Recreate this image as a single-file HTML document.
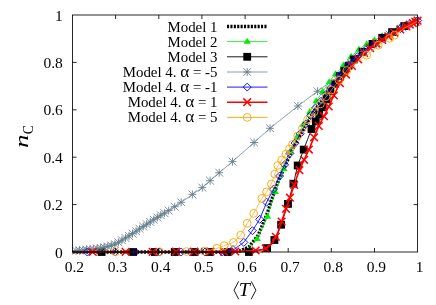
<!DOCTYPE html>
<html><head><meta charset="utf-8"><title>chart</title>
<style>html,body{margin:0;padding:0;background:#fff;}body{width:436px;height:305px;overflow:hidden;font-family:"Liberation Serif",serif;}</style></head>
<body>
<svg width="436" height="305" viewBox="0 0 436 305" style="display:block;will-change:transform;opacity:0.999">
<rect width="436" height="305" fill="#fff"/>
<defs>
<g id="tri"><path d="M0,-3.9 L3.7,2.1 L-3.7,2.1 Z" fill="#00ee00"/></g>
<g id="sq"><rect x="-3.9" y="-3.9" width="7.8" height="7.8" fill="#000"/></g>
<g id="ast"><path d="M-3.9,-3.9L3.9,3.9M-3.9,3.9L3.9,-3.9M0,-4L0,4M-4,0L4,0" stroke="#627c8a" stroke-width="0.85" fill="none"/></g>
<g id="dia"><path d="M0,-4L4,0L0,4L-4,0Z" stroke="#0000ff" stroke-width="0.9" fill="none"/></g>
<g id="crs"><path d="M-3.8,-3.8L3.8,3.8M-3.8,3.8L3.8,-3.8" stroke="#ff0000" stroke-width="1.5" fill="none"/></g>
<g id="cir"><circle r="3.9" stroke="#ffa500" stroke-width="0.9" fill="none"/></g>
</defs>
<polyline points="72.5,252.0 74.7,252.0 76.8,252.0 79.0,252.0 81.1,252.0 83.3,252.0 85.4,252.0 87.6,252.0 89.8,252.0 91.9,252.0 94.1,252.0 96.2,252.0 98.4,252.0 100.5,252.0 102.7,252.0 104.9,252.0 107.0,252.0 109.2,252.0 111.3,252.0 113.5,252.0 115.6,252.0 117.8,252.0 120.0,252.0 122.1,252.0 124.3,252.0 126.4,252.0 128.6,252.0 130.7,252.0 132.9,252.0 135.0,252.0 137.2,252.0 139.4,252.0 141.5,252.0 143.7,252.0 145.8,252.0 148.0,252.0 150.1,252.0 152.3,252.0 154.5,252.0 156.6,252.0 158.8,252.0 160.9,252.0 163.1,252.0 165.2,252.0 167.4,252.0 169.6,252.0 171.7,252.0 173.9,252.0 176.0,252.0 178.2,252.0 180.3,252.0 182.5,252.0 184.7,252.0 186.8,252.0 189.0,252.0 191.1,252.0 193.3,252.0 195.4,252.0 197.6,252.0 199.8,252.0 201.9,252.0 204.1,252.0 206.2,252.0 208.4,252.0 210.5,252.0 212.7,252.0 214.9,252.0 217.0,252.0 219.2,252.0 221.3,252.0 223.5,252.0 225.6,252.0 227.8,252.0 230.0,252.0 232.1,252.0 234.3,251.6 236.4,251.3 238.6,250.9 240.7,250.6 242.9,249.6 245.1,248.7 247.2,247.8 249.4,246.5 251.5,243.7 253.7,241.0 255.8,238.2 258.0,235.5 260.1,230.7 262.3,225.5 264.5,220.2 266.6,215.0 268.8,208.9 270.9,202.3 273.1,195.7 275.2,189.1 277.4,183.2 279.6,178.3 281.7,173.4 283.9,168.5 286.0,163.6 288.2,158.7 290.3,153.8 292.5,148.9 294.7,145.0 296.8,141.2 299.0,137.3 301.1,133.4 303.3,129.6 305.4,125.7 307.6,121.9 309.8,118.0 311.9,114.1 314.1,111.0 316.2,108.0 318.4,105.1 320.5,102.1 322.7,99.1 324.9,96.2 327.0,93.2 329.2,90.2 331.3,87.3 333.5,84.3 335.6,81.4 337.8,78.4 340.0,75.4 342.1,72.9 344.3,70.3 346.4,67.7 348.6,65.2 350.7,62.6 352.9,60.0 355.1,58.3 357.2,56.6 359.4,54.9 361.5,53.2 363.7,51.5 365.8,49.8 368.0,48.4 370.1,47.0 372.3,45.6 374.5,44.2 376.6,42.8 378.8,41.4 380.9,40.0 383.1,38.6 385.2,37.2 387.4,35.9 389.6,34.6 391.7,33.2 393.9,31.9 396.0,30.6 398.2,29.6 400.3,28.6 402.5,27.6 404.7,26.5 406.8,25.5 409.0,24.5 411.1,23.5 413.3,22.5 415.4,21.5 417.6,20.5" fill="none" stroke="#000" stroke-width="3.4" stroke-dasharray="2.1,1.3"/>
<polyline points="72.5,252.0 74.7,252.0 76.8,252.0 79.0,252.0 81.1,252.0 83.3,252.0 85.4,252.0 87.6,252.0 89.8,252.0 91.9,252.0 94.1,252.0 96.2,252.0 98.4,252.0 100.5,252.0 102.7,252.0 104.9,252.0 107.0,252.0 109.2,252.0 111.3,252.0 113.5,252.0 115.6,252.0 117.8,252.0 120.0,252.0 122.1,252.0 124.3,252.0 126.4,252.0 128.6,252.0 130.7,252.0 132.9,252.0 135.0,252.0 137.2,252.0 139.4,252.0 141.5,252.0 143.7,252.0 145.8,252.0 148.0,252.0 150.1,252.0 152.3,252.0 154.5,252.0 156.6,252.0 158.8,252.0 160.9,252.0 163.1,252.0 165.2,252.0 167.4,252.0 169.6,252.0 171.7,252.0 173.9,252.0 176.0,252.0 178.2,252.0 180.3,252.0 182.5,252.0 184.7,252.0 186.8,252.0 189.0,252.0 191.1,252.0 193.3,252.0 195.4,252.0 197.6,252.0 199.8,252.0 201.9,252.0 204.1,252.0 206.2,252.0 208.4,252.0 210.5,252.0 212.7,252.0 214.9,252.0 217.0,252.0 219.2,252.0 221.3,252.0 223.5,252.0 225.6,252.0 227.8,252.0 230.0,252.0 232.1,252.0 234.3,252.0 236.4,252.0 238.6,251.6 240.7,251.3 242.9,250.9 245.1,250.6 247.2,248.5 249.4,246.4 251.5,244.4 253.7,242.3 255.8,240.2 258.0,237.1 260.1,232.5 262.3,227.8 264.5,223.2 266.6,218.5 268.8,212.5 270.9,205.6 273.1,198.7 275.2,191.8 277.4,186.1 279.6,180.3 281.7,174.6 283.9,168.8 286.0,163.1 288.2,157.3 290.3,151.6 292.5,145.8 294.7,141.6 296.8,137.4 299.0,133.1 301.1,128.9 303.3,124.7 305.4,120.5 307.6,116.3 309.8,112.0 311.9,107.8 314.1,104.4 316.2,101.2 318.4,98.1 320.5,94.9 322.7,91.7 324.9,88.5 327.0,85.3 329.2,82.2 331.3,79.0 333.5,76.6 335.6,74.2 337.8,71.7 340.0,69.3 342.1,66.9 344.3,64.5 346.4,62.1 348.6,59.7 350.7,57.2 352.9,54.8 355.1,53.0 357.2,51.1 359.4,49.3 361.5,47.4 363.7,45.8 365.8,44.7 368.0,43.5 370.1,42.4 372.3,41.3 374.5,40.1 376.6,39.0 378.8,37.9 380.9,36.8 383.1,35.7 385.2,34.6 387.4,33.4 389.6,32.3 391.7,31.2 393.9,30.1 396.0,29.0 398.2,28.1 400.3,27.1 402.5,26.2 404.7,25.3 406.8,24.4 409.0,23.4 411.1,22.5 413.3,21.6 415.4,20.7 417.6,19.7" fill="none" stroke="#00ee00" stroke-width="0.8"/>
<use href="#tri" x="257.1" y="239.0"/>
<use href="#tri" x="267.5" y="216.7"/>
<use href="#tri" x="275.2" y="191.8"/>
<use href="#tri" x="283.9" y="168.8"/>
<use href="#tri" x="290.3" y="151.6"/>
<use href="#tri" x="296.8" y="137.4"/>
<use href="#tri" x="303.3" y="124.7"/>
<use href="#tri" x="309.8" y="112.0"/>
<use href="#tri" x="316.2" y="101.2"/>
<use href="#tri" x="322.7" y="91.7"/>
<use href="#tri" x="329.2" y="82.2"/>
<use href="#tri" x="335.6" y="74.2"/>
<use href="#tri" x="343.4" y="65.5"/>
<use href="#tri" x="351.2" y="56.7"/>
<use href="#tri" x="358.9" y="49.6"/>
<use href="#tri" x="366.7" y="44.2"/>
<use href="#tri" x="374.5" y="40.1"/>
<use href="#tri" x="382.2" y="36.1"/>
<use href="#tri" x="390.0" y="32.1"/>
<use href="#tri" x="397.8" y="28.2"/>
<use href="#tri" x="405.5" y="24.9"/>
<use href="#tri" x="413.3" y="21.6"/>
<polyline points="72.5,252.0 74.7,252.0 76.8,252.0 79.0,252.0 81.1,252.0 83.3,252.0 85.4,252.0 87.6,252.0 89.8,252.0 91.9,252.0 94.1,252.0 96.2,252.0 98.4,252.0 100.5,252.0 102.7,252.0 104.9,252.0 107.0,252.0 109.2,252.0 111.3,252.0 113.5,252.0 115.6,252.0 117.8,252.0 120.0,252.0 122.1,252.0 124.3,252.0 126.4,252.0 128.6,252.0 130.7,252.0 132.9,252.0 135.0,252.0 137.2,252.0 139.4,252.0 141.5,252.0 143.7,252.0 145.8,252.0 148.0,252.0 150.1,252.0 152.3,252.0 154.5,252.0 156.6,252.0 158.8,252.0 160.9,252.0 163.1,252.0 165.2,252.0 167.4,252.0 169.6,252.0 171.7,252.0 173.9,252.0 176.0,252.0 178.2,252.0 180.3,252.0 182.5,252.0 184.7,252.0 186.8,252.0 189.0,252.0 191.1,252.0 193.3,252.0 195.4,252.0 197.6,252.0 199.8,252.0 201.9,252.0 204.1,252.0 206.2,252.0 208.4,252.0 210.5,252.0 212.7,252.0 214.9,252.0 217.0,252.0 219.2,252.0 221.3,252.0 223.5,252.0 225.6,252.0 227.8,252.0 230.0,252.0 232.1,252.0 234.3,252.0 236.4,252.0 238.6,252.0 240.7,252.0 242.9,252.0 245.1,252.0 247.2,252.0 249.4,252.0 251.5,252.0 253.7,252.0 255.8,251.4 258.0,250.7 260.1,250.1 262.3,249.5 264.5,248.9 266.6,248.2 268.8,247.2 270.9,244.4 273.1,241.7 275.2,238.9 277.4,234.4 279.6,228.7 281.7,222.8 283.9,216.3 286.0,209.8 288.2,203.1 290.3,195.0 292.5,187.0 294.7,178.3 296.8,169.1 299.0,162.1 301.1,156.4 303.3,150.8 305.4,145.0 307.6,139.3 309.8,133.6 311.9,128.2 314.1,124.4 316.2,120.5 318.4,116.1 320.5,111.7 322.7,107.3 324.9,102.9 327.0,98.5 329.2,94.1 331.3,89.7 333.5,86.3 335.6,82.9 337.8,79.5 340.0,76.1 342.1,73.5 344.3,70.9 346.4,68.3 348.6,65.7 350.7,63.1 352.9,60.5 355.1,57.9 357.2,56.2 359.4,54.4 361.5,52.7 363.7,50.9 365.8,49.2 368.0,47.5 370.1,45.7 372.3,44.0 374.5,42.3 376.6,41.0 378.8,39.8 380.9,38.6 383.1,37.3 385.2,36.1 387.4,34.9 389.6,33.6 391.7,32.4 393.9,31.2 396.0,29.9 398.2,28.9 400.3,27.9 402.5,26.9 404.7,25.9 406.8,25.0 409.0,24.0 411.1,23.0 413.3,22.0 415.4,21.0 417.6,20.0" fill="none" stroke="#000" stroke-width="0.9"/>
<use href="#sq" x="101.6" y="252.0"/>
<use href="#sq" x="133.1" y="252.0"/>
<use href="#sq" x="154.9" y="252.0"/>
<use href="#sq" x="174.7" y="252.0"/>
<use href="#sq" x="194.6" y="252.0"/>
<use href="#sq" x="209.7" y="252.0"/>
<use href="#sq" x="227.8" y="252.0"/>
<use href="#sq" x="248.9" y="252.0"/>
<use href="#sq" x="267.1" y="248.1"/>
<use href="#sq" x="274.4" y="240.0"/>
<use href="#sq" x="281.1" y="224.7"/>
<use href="#sq" x="288.0" y="203.9"/>
<use href="#sq" x="293.4" y="183.7"/>
<use href="#sq" x="297.7" y="165.5"/>
<use href="#sq" x="303.7" y="149.6"/>
<use href="#sq" x="311.5" y="129.0"/>
<use href="#sq" x="315.8" y="121.4"/>
<use href="#sq" x="319.2" y="114.4"/>
<use href="#sq" x="322.7" y="107.3"/>
<use href="#sq" x="326.6" y="99.4"/>
<use href="#sq" x="330.5" y="91.4"/>
<use href="#sq" x="335.2" y="83.6"/>
<use href="#sq" x="340.0" y="76.1"/>
<use href="#sq" x="344.3" y="70.9"/>
<use href="#sq" x="348.6" y="65.7"/>
<use href="#sq" x="353.8" y="59.5"/>
<use href="#sq" x="362.6" y="51.8"/>
<use href="#sq" x="372.5" y="43.9"/>
<use href="#sq" x="382.2" y="37.8"/>
<use href="#sq" x="392.1" y="32.1"/>
<use href="#sq" x="404.2" y="26.1"/>
<polyline points="72.5,251.1 74.7,250.9 76.8,250.7 79.0,250.5 81.1,250.3 83.3,250.1 85.4,249.9 87.6,249.7 89.8,249.5 91.9,249.3 94.1,249.2 96.2,248.8 98.4,248.4 100.5,248.0 102.7,247.6 104.9,247.2 107.0,246.8 109.2,246.1 111.3,245.4 113.5,244.7 115.6,243.9 117.8,242.6 120.0,241.4 122.1,240.1 124.3,238.8 126.4,237.5 128.6,236.2 130.7,234.8 132.9,233.4 135.0,231.9 137.2,230.5 139.4,229.0 141.5,227.6 143.7,226.2 145.8,224.8 148.0,223.4 150.1,222.0 152.3,220.6 154.5,219.2 156.6,217.8 158.8,216.4 160.9,215.2 163.1,213.9 165.2,212.6 167.4,211.3 169.6,210.1 171.7,208.7 173.9,207.2 176.0,205.8 178.2,204.4 180.3,202.9 182.5,201.4 184.7,199.9 186.8,198.4 189.0,196.8 191.1,195.3 193.3,193.8 195.4,192.4 197.6,190.9 199.8,189.5 201.9,188.0 204.1,186.1 206.2,184.2 208.4,182.2 210.5,180.3 212.7,178.4 214.9,176.5 217.0,174.6 219.2,172.7 221.3,170.9 223.5,169.1 225.6,167.3 227.8,165.5 230.0,163.7 232.1,161.9 234.3,160.0 236.4,158.1 238.6,156.2 240.7,154.3 242.9,152.4 245.1,150.5 247.2,148.6 249.4,146.7 251.5,144.8 253.7,142.9 255.8,141.0 258.0,139.0 260.1,137.1 262.3,135.2 264.5,133.3 266.6,131.4 268.8,129.4 270.9,127.6 273.1,125.9 275.2,124.1 277.4,122.4 279.6,120.7 281.7,119.0 283.9,117.2 286.0,115.5 288.2,113.8 290.3,112.1 292.5,110.3 294.7,108.6 296.8,106.9 299.0,105.2 301.1,103.6 303.3,102.0 305.4,100.4 307.6,98.7 309.8,97.1 311.9,95.5 314.1,93.9 316.2,92.3 318.4,90.7 320.5,89.1 322.7,87.6 324.9,86.0 327.0,84.5 329.2,82.9 331.3,81.4 333.5,79.9 335.6,78.4 337.8,76.9 340.0,75.4 342.1,72.9 344.3,70.3 346.4,67.7 348.6,65.2 350.7,62.6 352.9,60.0 355.1,58.3 357.2,56.6 359.4,54.9 361.5,53.2 363.7,51.5 365.8,49.8 368.0,48.4 370.1,47.0 372.3,45.6 374.5,44.2 376.6,42.8 378.8,41.4 380.9,40.0 383.1,38.6 385.2,37.2 387.4,35.9 389.6,34.6 391.7,33.2 393.9,31.9 396.0,30.6 398.2,29.6 400.3,28.6 402.5,27.6 404.7,26.5 406.8,25.5 409.0,24.5 411.1,23.5 413.3,22.5 415.4,21.5 417.6,20.5" fill="none" stroke="#7a929f" stroke-width="0.9"/>
<use href="#ast" x="76.0" y="250.7"/>
<use href="#ast" x="79.5" y="250.4"/>
<use href="#ast" x="83.0" y="250.1"/>
<use href="#ast" x="86.6" y="249.8"/>
<use href="#ast" x="90.1" y="249.5"/>
<use href="#ast" x="93.6" y="249.2"/>
<use href="#ast" x="97.2" y="248.6"/>
<use href="#ast" x="100.7" y="247.9"/>
<use href="#ast" x="104.2" y="247.3"/>
<use href="#ast" x="107.8" y="246.5"/>
<use href="#ast" x="111.3" y="245.4"/>
<use href="#ast" x="114.9" y="244.2"/>
<use href="#ast" x="118.4" y="242.3"/>
<use href="#ast" x="121.9" y="240.2"/>
<use href="#ast" x="125.5" y="238.0"/>
<use href="#ast" x="129.0" y="235.9"/>
<use href="#ast" x="132.5" y="233.6"/>
<use href="#ast" x="136.1" y="231.2"/>
<use href="#ast" x="139.6" y="228.9"/>
<use href="#ast" x="143.2" y="226.5"/>
<use href="#ast" x="146.7" y="224.2"/>
<use href="#ast" x="150.2" y="222.0"/>
<use href="#ast" x="153.8" y="219.7"/>
<use href="#ast" x="157.3" y="217.4"/>
<use href="#ast" x="160.8" y="215.2"/>
<use href="#ast" x="164.4" y="213.1"/>
<use href="#ast" x="168.7" y="210.6"/>
<use href="#ast" x="174.7" y="206.7"/>
<use href="#ast" x="181.2" y="202.3"/>
<use href="#ast" x="192.4" y="194.4"/>
<use href="#ast" x="202.3" y="187.6"/>
<use href="#ast" x="210.1" y="180.7"/>
<use href="#ast" x="219.2" y="172.7"/>
<use href="#ast" x="232.5" y="161.6"/>
<use href="#ast" x="254.1" y="142.5"/>
<use href="#ast" x="270.1" y="128.3"/>
<use href="#ast" x="297.9" y="106.0"/>
<use href="#ast" x="317.5" y="91.3"/>
<use href="#ast" x="337.8" y="76.9"/>
<use href="#ast" x="350.7" y="62.6"/>
<use href="#ast" x="363.7" y="51.5"/>
<use href="#ast" x="376.6" y="42.8"/>
<use href="#ast" x="389.6" y="34.6"/>
<use href="#ast" x="402.5" y="27.6"/>
<use href="#ast" x="415.4" y="21.5"/>
<polyline points="72.5,252.0 74.7,252.0 76.8,252.0 79.0,252.0 81.1,252.0 83.3,252.0 85.4,252.0 87.6,252.0 89.8,252.0 91.9,252.0 94.1,252.0 96.2,252.0 98.4,252.0 100.5,252.0 102.7,252.0 104.9,252.0 107.0,252.0 109.2,252.0 111.3,252.0 113.5,252.0 115.6,252.0 117.8,252.0 120.0,252.0 122.1,252.0 124.3,252.0 126.4,252.0 128.6,252.0 130.7,252.0 132.9,252.0 135.0,252.0 137.2,252.0 139.4,252.0 141.5,252.0 143.7,252.0 145.8,252.0 148.0,252.0 150.1,252.0 152.3,252.0 154.5,252.0 156.6,252.0 158.8,252.0 160.9,252.0 163.1,252.0 165.2,252.0 167.4,252.0 169.6,252.0 171.7,252.0 173.9,252.0 176.0,252.0 178.2,252.0 180.3,252.0 182.5,252.0 184.7,252.0 186.8,252.0 189.0,252.0 191.1,252.0 193.3,252.0 195.4,252.0 197.6,252.0 199.8,252.0 201.9,252.0 204.1,252.0 206.2,252.0 208.4,252.0 210.5,252.0 212.7,252.0 214.9,252.0 217.0,252.0 219.2,252.0 221.3,252.0 223.5,252.0 225.6,251.4 227.8,250.9 230.0,250.3 232.1,249.7 234.3,249.2 236.4,247.6 238.6,246.1 240.7,244.6 242.9,243.0 245.1,240.6 247.2,237.7 249.4,234.8 251.5,231.8 253.7,228.7 255.8,225.3 258.0,222.0 260.1,218.2 262.3,212.9 264.5,207.6 266.6,202.2 268.8,198.2 270.9,194.1 273.1,190.0 275.2,185.4 277.4,180.7 279.6,176.0 281.7,171.3 283.9,166.6 286.0,161.9 288.2,157.1 290.3,152.4 292.5,147.7 294.7,143.9 296.8,140.0 299.0,136.1 301.1,132.3 303.3,128.4 305.4,124.5 307.6,120.7 309.8,116.8 311.9,112.9 314.1,110.0 316.2,107.3 318.4,104.6 320.5,101.9 322.7,99.1 324.9,96.2 327.0,93.2 329.2,90.2 331.3,87.3 333.5,84.3 335.6,81.4 337.8,78.4 340.0,75.4 342.1,72.9 344.3,70.3 346.4,67.7 348.6,65.2 350.7,62.6 352.9,60.0 355.1,58.3 357.2,56.6 359.4,54.9 361.5,53.2 363.7,51.5 365.8,49.8 368.0,48.4 370.1,47.0 372.3,45.6 374.5,44.2 376.6,42.8 378.8,41.4 380.9,40.0 383.1,38.6 385.2,37.2 387.4,35.9 389.6,34.6 391.7,33.2 393.9,31.9 396.0,30.6 398.2,29.6 400.3,28.6 402.5,27.6 404.7,26.5 406.8,25.5 409.0,24.5 411.1,23.5 413.3,22.5 415.4,21.5 417.6,20.5" fill="none" stroke="#0000ff" stroke-width="0.9"/>
<use href="#dia" x="87.4" y="252.0"/>
<use href="#dia" x="115.2" y="252.0"/>
<use href="#dia" x="135.5" y="252.0"/>
<use href="#dia" x="159.6" y="252.0"/>
<use href="#dia" x="181.2" y="252.0"/>
<use href="#dia" x="190.3" y="252.0"/>
<use href="#dia" x="204.9" y="252.0"/>
<use href="#dia" x="222.2" y="252.0"/>
<use href="#dia" x="233.0" y="249.5"/>
<use href="#dia" x="243.8" y="242.4"/>
<use href="#dia" x="252.4" y="230.7"/>
<use href="#dia" x="259.7" y="219.3"/>
<use href="#dia" x="266.6" y="202.2"/>
<use href="#dia" x="273.5" y="189.2"/>
<use href="#dia" x="279.6" y="176.0"/>
<use href="#dia" x="284.7" y="164.7"/>
<use href="#dia" x="289.9" y="153.4"/>
<use href="#dia" x="295.1" y="143.1"/>
<use href="#dia" x="300.3" y="133.8"/>
<use href="#dia" x="305.4" y="124.5"/>
<use href="#dia" x="310.6" y="115.3"/>
<use href="#dia" x="315.8" y="107.8"/>
<use href="#dia" x="321.0" y="101.3"/>
<use href="#dia" x="326.1" y="94.4"/>
<use href="#dia" x="331.3" y="87.3"/>
<use href="#dia" x="340.0" y="75.4"/>
<use href="#dia" x="348.6" y="65.2"/>
<use href="#dia" x="357.2" y="56.6"/>
<use href="#dia" x="365.8" y="49.8"/>
<use href="#dia" x="374.5" y="44.2"/>
<use href="#dia" x="383.1" y="38.6"/>
<use href="#dia" x="391.7" y="33.2"/>
<use href="#dia" x="400.3" y="28.6"/>
<use href="#dia" x="409.0" y="24.5"/>
<use href="#dia" x="417.6" y="20.5"/>
<polyline points="72.5,252.0 74.7,252.0 76.8,252.0 79.0,252.0 81.1,252.0 83.3,252.0 85.4,252.0 87.6,252.0 89.8,251.9 91.9,251.9 94.1,251.9 96.2,251.9 98.4,251.9 100.5,251.9 102.7,251.9 104.9,251.9 107.0,251.9 109.2,251.9 111.3,251.9 113.5,251.9 115.6,251.9 117.8,251.9 120.0,251.9 122.1,251.9 124.3,251.8 126.4,251.8 128.6,251.8 130.7,251.8 132.9,251.8 135.0,251.8 137.2,251.8 139.4,251.8 141.5,251.8 143.7,251.8 145.8,251.8 148.0,251.8 150.1,251.8 152.3,251.8 154.5,251.8 156.6,251.8 158.8,251.7 160.9,251.7 163.1,251.7 165.2,251.7 167.4,251.7 169.6,251.7 171.7,251.7 173.9,251.7 176.0,251.7 178.2,251.7 180.3,251.7 182.5,251.7 184.7,251.7 186.8,251.7 189.0,251.7 191.1,251.7 193.3,251.6 195.4,251.6 197.6,251.6 199.8,251.6 201.9,251.6 204.1,251.6 206.2,251.6 208.4,251.6 210.5,251.6 212.7,251.6 214.9,251.6 217.0,251.6 219.2,251.6 221.3,251.6 223.5,251.6 225.6,251.6 227.8,251.5 230.0,251.5 232.1,251.5 234.3,251.5 236.4,251.4 238.6,251.3 240.7,251.2 242.9,251.1 245.1,251.0 247.2,250.9 249.4,250.8 251.5,250.7 253.7,250.6 255.8,250.4 258.0,250.2 260.1,249.9 262.3,249.6 264.5,248.8 266.6,248.1 268.8,246.6 270.9,244.6 273.1,242.0 275.2,237.8 277.4,233.7 279.6,227.5 281.7,221.1 283.9,214.8 286.0,208.8 288.2,202.8 290.3,196.4 292.5,190.1 294.7,183.7 296.8,177.3 299.0,171.2 301.1,166.4 303.3,161.7 305.4,157.0 307.6,152.4 309.8,147.6 311.9,142.4 314.1,137.3 316.2,132.1 318.4,126.9 320.5,122.7 322.7,118.7 324.9,114.6 327.0,110.2 329.2,105.6 331.3,101.0 333.5,96.4 335.6,91.8 337.8,87.2 340.0,83.2 342.1,80.1 344.3,77.1 346.4,74.0 348.6,70.9 350.7,67.8 352.9,64.8 355.1,62.5 357.2,60.2 359.4,57.9 361.5,55.7 363.7,53.4 365.8,51.6 368.0,49.9 370.1,48.1 372.3,46.4 374.5,44.6 376.6,43.3 378.8,42.0 380.9,40.7 383.1,39.4 385.2,38.1 387.4,36.8 389.6,35.5 391.7,34.2 393.9,32.9 396.0,31.6 398.2,30.5 400.3,29.4 402.5,28.3 404.7,27.2 406.8,26.1 409.0,25.0 411.1,24.0 413.3,22.9 415.4,21.8 417.6,20.7" fill="none" stroke="#ff0000" stroke-width="1.6"/>
<use href="#crs" x="92.8" y="251.9"/>
<use href="#crs" x="125.6" y="251.8"/>
<use href="#crs" x="152.7" y="251.8"/>
<use href="#crs" x="176.0" y="251.7"/>
<use href="#crs" x="194.1" y="251.6"/>
<use href="#crs" x="210.5" y="251.6"/>
<use href="#crs" x="223.9" y="251.6"/>
<use href="#crs" x="235.3" y="251.5"/>
<use href="#crs" x="255.6" y="250.5"/>
<use href="#crs" x="265.7" y="248.4"/>
<use href="#crs" x="275.8" y="236.8"/>
<use href="#crs" x="281.6" y="221.5"/>
<use href="#crs" x="286.0" y="208.8"/>
<use href="#crs" x="289.9" y="197.7"/>
<use href="#crs" x="294.2" y="185.0"/>
<use href="#crs" x="299.4" y="170.2"/>
<use href="#crs" x="304.1" y="159.8"/>
<use href="#crs" x="308.9" y="149.6"/>
<use href="#crs" x="314.1" y="137.3"/>
<use href="#crs" x="318.8" y="125.9"/>
<use href="#crs" x="324.0" y="116.2"/>
<use href="#crs" x="328.7" y="106.5"/>
<use href="#crs" x="333.9" y="95.5"/>
<use href="#crs" x="340.0" y="83.2"/>
<use href="#crs" x="346.0" y="74.6"/>
<use href="#crs" x="352.0" y="66.0"/>
<use href="#crs" x="358.1" y="59.3"/>
<use href="#crs" x="364.1" y="53.0"/>
<use href="#crs" x="370.1" y="48.1"/>
<use href="#crs" x="376.2" y="43.6"/>
<use href="#crs" x="382.2" y="39.9"/>
<use href="#crs" x="388.3" y="36.3"/>
<use href="#crs" x="394.3" y="32.6"/>
<use href="#crs" x="400.3" y="29.4"/>
<use href="#crs" x="406.4" y="26.4"/>
<use href="#crs" x="409.8" y="24.6"/>
<use href="#crs" x="412.9" y="23.1"/>
<use href="#crs" x="415.4" y="21.8"/>
<use href="#crs" x="417.6" y="20.7"/>
<polyline points="72.5,252.0 74.7,252.0 76.8,252.0 79.0,252.0 81.1,252.0 83.3,252.0 85.4,252.0 87.6,251.9 89.8,251.9 91.9,251.9 94.1,251.9 96.2,251.9 98.4,251.9 100.5,251.9 102.7,251.9 104.9,251.9 107.0,251.9 109.2,251.9 111.3,251.9 113.5,251.8 115.6,251.8 117.8,251.8 120.0,251.8 122.1,251.8 124.3,251.8 126.4,251.8 128.6,251.8 130.7,251.8 132.9,251.8 135.0,251.8 137.2,251.8 139.4,251.8 141.5,251.7 143.7,251.7 145.8,251.7 148.0,251.7 150.1,251.7 152.3,251.7 154.5,251.7 156.6,251.7 158.8,251.7 160.9,251.7 163.1,251.7 165.2,251.7 167.4,251.7 169.6,251.6 171.7,251.6 173.9,251.6 176.0,251.6 178.2,251.6 180.3,251.6 182.5,251.6 184.7,251.6 186.8,251.6 189.0,251.6 191.1,251.6 193.3,251.6 195.4,251.5 197.6,251.5 199.8,251.5 201.9,251.5 204.1,251.1 206.2,250.7 208.4,250.3 210.5,249.9 212.7,249.6 214.9,249.2 217.0,248.3 219.2,247.5 221.3,246.7 223.5,245.9 225.6,245.1 227.8,244.4 230.0,243.6 232.1,242.9 234.3,241.6 236.4,239.4 238.6,237.3 240.7,235.2 242.9,231.2 245.1,227.3 247.2,223.3 249.4,220.0 251.5,216.7 253.7,213.4 255.8,209.4 258.0,205.5 260.1,201.6 262.3,197.8 264.5,194.8 266.6,191.8 268.8,188.2 270.9,184.7 273.1,179.1 275.2,172.9 277.4,166.7 279.6,163.1 281.7,160.1 283.9,157.1 286.0,154.1 288.2,150.9 290.3,147.6 292.5,144.4 294.7,140.9 296.8,137.4 299.0,133.8 301.1,130.3 303.3,126.8 305.4,123.3 307.6,119.8 309.8,117.1 311.9,114.5 314.1,111.8 316.2,109.2 318.4,106.5 320.5,103.9 322.7,101.1 324.9,98.4 327.0,95.6 329.2,92.9 331.3,90.1 333.5,87.4 335.6,84.7 337.8,82.0 340.0,79.2 342.1,76.5 344.3,73.8 346.4,71.1 348.6,68.3 350.7,66.8 352.9,65.2 355.1,63.6 357.2,62.1 359.4,60.5 361.5,58.9 363.7,57.4 365.8,55.8 368.0,54.3 370.1,52.5 372.3,50.6 374.5,48.7 376.6,46.8 378.8,44.9 380.9,43.6 383.1,42.3 385.2,41.0 387.4,39.7 389.6,38.4 391.7,37.1 393.9,35.7 396.0,34.2 398.2,32.6 400.3,31.1 402.5,29.6 404.7,28.0 406.8,26.9 409.0,25.7 411.1,24.6 413.3,23.5 415.4,22.3 417.6,21.2" fill="none" stroke="#ffa500" stroke-width="0.7"/>
<use href="#cir" x="115.2" y="251.8"/>
<use href="#cir" x="159.6" y="251.7"/>
<use href="#cir" x="186.4" y="251.6"/>
<use href="#cir" x="204.1" y="251.1"/>
<use href="#cir" x="217.0" y="248.3"/>
<use href="#cir" x="224.3" y="245.6"/>
<use href="#cir" x="233.4" y="242.4"/>
<use href="#cir" x="240.7" y="235.2"/>
<use href="#cir" x="247.2" y="223.3"/>
<use href="#cir" x="253.7" y="213.4"/>
<use href="#cir" x="261.9" y="198.4"/>
<use href="#cir" x="266.6" y="191.8"/>
<use href="#cir" x="271.4" y="184.0"/>
<use href="#cir" x="274.8" y="174.1"/>
<use href="#cir" x="277.8" y="165.5"/>
<use href="#cir" x="281.7" y="160.1"/>
<use href="#cir" x="286.0" y="154.1"/>
<use href="#cir" x="289.5" y="148.9"/>
<use href="#cir" x="292.5" y="144.4"/>
<use href="#cir" x="297.7" y="136.0"/>
<use href="#cir" x="302.4" y="128.2"/>
<use href="#cir" x="307.6" y="119.8"/>
<use href="#cir" x="314.1" y="111.8"/>
<use href="#cir" x="320.5" y="103.9"/>
<use href="#cir" x="326.1" y="96.7"/>
<use href="#cir" x="331.3" y="90.1"/>
<use href="#cir" x="339.1" y="80.3"/>
<use href="#cir" x="346.9" y="70.5"/>
<use href="#cir" x="366.7" y="55.2"/>
<use href="#cir" x="378.3" y="45.2"/>
<use href="#cir" x="389.6" y="38.4"/>
<use href="#cir" x="394.7" y="35.1"/>
<path d="M73.0,252.0H230.0" stroke="#7a0808" stroke-width="1.4" fill="none"/>
<path d="M73.0,252.0H230.0" stroke="#000" stroke-opacity="0.5" stroke-width="1.4" stroke-dasharray="2.1,1.3" fill="none"/>
<g stroke="#000" stroke-width="0.85" fill="none">
<rect x="72.5" y="15.0" width="345.1" height="237.0"/>
<path d="M115.6,252.0v-4M115.6,15.0v4"/>
<path d="M158.8,252.0v-4M158.8,15.0v4"/>
<path d="M201.9,252.0v-4M201.9,15.0v4"/>
<path d="M245.1,252.0v-4M245.1,15.0v4"/>
<path d="M288.2,252.0v-4M288.2,15.0v4"/>
<path d="M331.3,252.0v-4M331.3,15.0v4"/>
<path d="M374.5,252.0v-4M374.5,15.0v4"/>
<path d="M72.5,204.6h4M417.6,204.6h-4"/>
<path d="M72.5,157.2h4M417.6,157.2h-4"/>
<path d="M72.5,109.8h4M417.6,109.8h-4"/>
<path d="M72.5,62.4h4M417.6,62.4h-4"/>
</g>
<g font-family="Liberation Serif, serif" font-size="15.5px" fill="#000">
<text x="74.4" y="271.5" text-anchor="middle">0.2</text>
<text x="117.5" y="271.5" text-anchor="middle">0.3</text>
<text x="160.7" y="271.5" text-anchor="middle">0.4</text>
<text x="203.8" y="271.5" text-anchor="middle">0.5</text>
<text x="247.0" y="271.5" text-anchor="middle">0.6</text>
<text x="290.1" y="271.5" text-anchor="middle">0.7</text>
<text x="333.2" y="271.5" text-anchor="middle">0.8</text>
<text x="376.4" y="271.5" text-anchor="middle">0.9</text>
<text x="419.5" y="271.5" text-anchor="middle">1</text>
<text x="62.8" y="257.5" text-anchor="end">0</text>
<text x="62.8" y="210.1" text-anchor="end">0.2</text>
<text x="62.8" y="162.7" text-anchor="end">0.4</text>
<text x="62.8" y="115.3" text-anchor="end">0.6</text>
<text x="62.8" y="67.9" text-anchor="end">0.8</text>
<text x="62.8" y="20.5" text-anchor="end">1</text>
<text x="217.5" y="31.5" text-anchor="end" font-size="14.9px">Model 1</text>
<text x="217.5" y="46.6" text-anchor="end" font-size="14.9px">Model 2</text>
<text x="217.5" y="61.8" text-anchor="end" font-size="14.9px">Model 3</text>
<text x="217.5" y="77.0" text-anchor="end" font-size="14.9px">Model 4. <tspan font-size="17.2px">α</tspan> = -5</text>
<text x="217.5" y="92.1" text-anchor="end" font-size="14.9px">Model 4. <tspan font-size="17.2px">α</tspan> = -1</text>
<text x="217.5" y="107.2" text-anchor="end" font-size="14.9px">Model 4. <tspan font-size="17.2px">α</tspan> = 1</text>
<text x="217.5" y="122.4" text-anchor="end" font-size="14.9px">Model 4. <tspan font-size="17.2px">α</tspan> = 5</text>
</g>
<path d="M227.0,26.5H267.5" stroke="#000" stroke-width="3.4" stroke-dasharray="2.1,1.3"/>
<path d="M227.0,41.6H267.5" stroke="#00ee00" stroke-width="0.8"/>
<use href="#tri" x="247.2" y="41.6"/>
<path d="M227.0,56.8H267.5" stroke="#000" stroke-width="0.9"/>
<use href="#sq" x="247.2" y="56.8"/>
<path d="M227.0,72.0H267.5" stroke="#7a929f" stroke-width="0.9"/>
<use href="#ast" x="247.2" y="72.0"/>
<path d="M227.0,87.1H267.5" stroke="#0000ff" stroke-width="0.9"/>
<use href="#dia" x="247.2" y="87.1"/>
<path d="M227.0,102.2H267.5" stroke="#ff0000" stroke-width="1.6"/>
<use href="#crs" x="247.2" y="102.2"/>
<path d="M227.0,117.4H267.5" stroke="#ffa500" stroke-width="0.9"/>
<use href="#cir" x="247.2" y="117.4"/>
<g transform="translate(244.3,296.2) scale(1.05,0.97)"><text x="0" y="0" text-anchor="middle" font-family="Liberation Serif, serif" font-size="19px" font-style="italic" fill="#000">T</text></g>
<path d="M238.7,281.3L234.0,290.2L238.7,299.2M251.2,281.3L255.9,290.2L251.2,299.2" stroke="#000" stroke-width="0.9" fill="none"/>
<g transform="translate(28,147.9) rotate(-90)" font-family="Liberation Serif, serif" fill="#000"><text x="0" y="0" font-size="19px" font-style="italic" transform="scale(1.42,1)">n</text><text x="13.6" y="4.9" font-size="13.6px">C</text></g>
</svg>
</body></html>
